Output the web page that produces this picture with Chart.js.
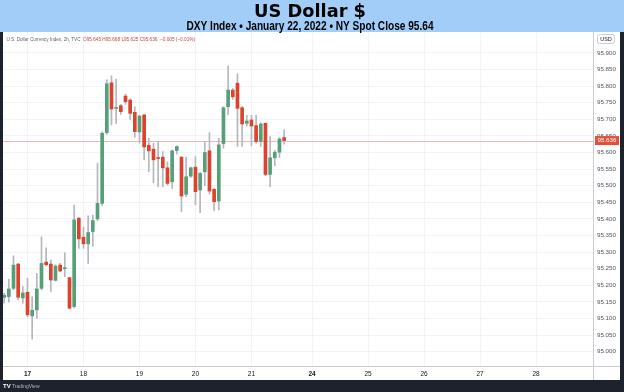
<!DOCTYPE html>
<html>
<head>
<meta charset="utf-8">
<script src="https://cdn.jsdelivr.net/npm/chart.js@4"></script>
<style>
  html, body { margin: 0; padding: 0; background: #fff; }
  #wrap { width: 624px; height: 392px; }
</style>
</head>
<body>
<div id="wrap"><canvas id="dxyChart" width="624" height="392"></canvas></div>
<script>
// 2h candles, DXY, Jan 14 (tail) .. Jan 21 2022
const opens = [95.164, 95.166, 95.191, 95.264, 95.162, 95.179, 95.108, 95.126, 95.191, 95.270,
  95.264, 95.215, 95.261, 95.250, 95.223, 95.136, 95.402, 95.345, 95.325, 95.362,
  95.400, 95.447, 95.660, 95.810, 95.733, 95.741, 95.770, 95.758, 95.721, 95.662,
  95.713, 95.622, 95.610, 95.584, 95.586, 95.554, 95.512, 95.606, 95.586, 95.474,
  95.529, 95.556, 95.487, 95.542, 95.605, 95.489, 95.454, 95.627, 95.738, 95.788,
  95.809, 95.735, 95.688, 95.698, 95.681, 95.633, 95.688, 95.534, 95.584, 95.601, 95.645];
const highs = [95.176, 95.218, 95.289, 95.266, 95.196, 95.221, 95.166, 95.236, 95.346, 95.313,
  95.276, 95.262, 95.266, 95.298, 95.224, 95.442, 95.405, 95.375, 95.409, 95.412,
  95.568, 95.662, 95.819, 95.831, 95.821, 95.745, 95.776, 95.762, 95.738, 95.712,
  95.715, 95.643, 95.628, 95.633, 95.603, 95.572, 95.607, 95.620, 95.588, 95.586,
  95.556, 95.588, 95.540, 95.633, 95.660, 95.492, 95.643, 95.738, 95.861, 95.793,
  95.837, 95.738, 95.712, 95.712, 95.712, 95.690, 95.690, 95.648, 95.606, 95.645, 95.668];
const lows = [95.146, 95.149, 95.186, 95.156, 95.146, 95.105, 95.038, 95.101, 95.186, 95.258,
  95.181, 95.213, 95.240, 95.226, 95.129, 95.131, 95.311, 95.311, 95.266, 95.318,
  95.395, 95.440, 95.655, 95.683, 95.688, 95.715, 95.745, 95.700, 95.646, 95.628,
  95.578, 95.542, 95.509, 95.497, 95.497, 95.502, 95.492, 95.595, 95.422, 95.467,
  95.525, 95.442, 95.419, 95.500, 95.475, 95.425, 95.427, 95.613, 95.713, 95.760,
  95.618, 95.618, 95.680, 95.620, 95.628, 95.618, 95.530, 95.497, 95.560, 95.585, 95.625];
const closes = [95.170, 95.189, 95.261, 95.164, 95.177, 95.111, 95.125, 95.189, 95.266, 95.262,
  95.216, 95.258, 95.243, 95.253, 95.131, 95.397, 95.340, 95.325, 95.359, 95.395,
  95.447, 95.658, 95.807, 95.731, 95.736, 95.723, 95.753, 95.718, 95.663, 95.710,
  95.617, 95.605, 95.578, 95.582, 95.554, 95.507, 95.605, 95.618, 95.469, 95.527,
  95.554, 95.482, 95.537, 95.600, 95.484, 95.452, 95.623, 95.735, 95.788, 95.768,
  95.733, 95.686, 95.695, 95.680, 95.633, 95.686, 95.534, 95.584, 95.601, 95.641, 95.636];

// x axis: day starts, as 2h slot index
const dayIdx = [5, 17, 29, 41, 53, 66, 78, 90, 102, 114];
const dayLabels = ['17', '18', '19', '20', '21', '24', '25', '26', '27', '28'];
const boldDays = ['17', '24'];
const yTicks = [95.000, 95.050, 95.100, 95.150, 95.200, 95.250, 95.300, 95.350, 95.400,
  95.450, 95.500, 95.550, 95.600, 95.650, 95.700, 95.750, 95.800, 95.850, 95.900];

const UP = '#55a079';
const DOWN = '#db432e';
const DARK = '#1e222d';
const FONT = '"Liberation Sans", Arial, sans-serif';

const bodyData = opens.map((o, i) => ({x: i, y: [o, closes[i]]}));
const wickData = opens.map((o, i) => ({x: i, y: [lows[i], highs[i]]}));

function candleColor(i) {
    return closes[i] >= opens[i] ? UP : DOWN;
}

const decorations = {
    id: 'decorations',
    beforeDraw(chart) {
        const ctx = chart.ctx;
        ctx.save();
        ctx.fillStyle = '#ffffff';
        ctx.fillRect(0, 0, 624, 392);
        ctx.fillStyle = '#a1cdf8';
        ctx.fillRect(0, 0, 624, 32);
        ctx.fillStyle = '#000000';
        ctx.textAlign = 'center';
        ctx.textBaseline = 'alphabetic';
        ctx.font = 'bold 18px "DejaVu Sans", sans-serif';
        ctx.fillText('US Dollar $', 310, 17, 112);
        ctx.font = 'bold 12px "Liberation Sans Narrow", ' + FONT;
        ctx.fillText('DXY Index \u2022 January 22, 2022 \u2022 NY Spot Close 95.64', 310, 30, 247);
        ctx.restore();
    },
    beforeDatasetsDraw(chart) {
        const ctx = chart.ctx;
        const area = chart.chartArea;
        const y = Math.round(chart.scales.y.getPixelForValue(closes[closes.length - 1])) + 0.5;
        ctx.save();
        ctx.strokeStyle = '#f6b3b0';
        ctx.lineWidth = 1;
        ctx.beginPath();
        ctx.moveTo(area.left, y);
        ctx.lineTo(area.right, y);
        ctx.stroke();
        ctx.restore();
    },
    afterDraw(chart) {
        const ctx = chart.ctx;
        const last = closes.length - 1;
        ctx.save();
        // axis separators
        ctx.strokeStyle = '#c9ccd3';
        ctx.lineWidth = 1;
        ctx.beginPath();
        ctx.moveTo(593.5, 32);
        ctx.lineTo(593.5, 380);
        ctx.moveTo(3, 366.5);
        ctx.lineTo(620, 366.5);
        ctx.stroke();

        // legend line
        ctx.textAlign = 'left';
        ctx.textBaseline = 'middle';
        ctx.font = '5.5px ' + FONT;
        ctx.fillStyle = '#5d606b';
        ctx.fillText('U.S. Dollar Currency Index, 2h, TVC', 6.5, 39.5, 74);
        ctx.fillStyle = '#c4473a';
        const chg = closes[last] - closes[last - 1];
        const pct = chg / closes[last - 1] * 100;
        ctx.fillText('O' + opens[last].toFixed(3) + ' H' + highs[last].toFixed(3) + ' L' + lows[last].toFixed(3) +
            ' C' + closes[last].toFixed(3) + '  \u2212' + Math.abs(chg).toFixed(3) + ' (\u2212' + Math.abs(pct).toFixed(2) + '%)',
            83, 39.5, 112);

        // USD badge
        ctx.fillStyle = '#ffffff';
        ctx.strokeStyle = '#c9ccd3';
        ctx.beginPath();
        ctx.roundRect(597.5, 34.5, 17, 9, 2);
        ctx.fill();
        ctx.stroke();
        ctx.fillStyle = '#131722';
        ctx.textAlign = 'center';
        ctx.fillText('USD', 606, 39.5);

        // last price label
        const py = chart.scales.y.getPixelForValue(closes[last]);
        ctx.fillStyle = '#e0503c';
        ctx.fillRect(595, py - 4.5, 24, 9);
        ctx.fillStyle = '#ffffff';
        ctx.font = '6.2px ' + FONT;
        ctx.textAlign = 'left';
        ctx.fillText(closes[last].toFixed(3), 597.5, py);

        // dark frame
        ctx.fillStyle = DARK;
        ctx.fillRect(0, 32, 3, 360);
        ctx.fillRect(620, 32, 4, 360);
        ctx.fillRect(0, 380, 624, 12);
        ctx.fillStyle = '#ffffff';
        ctx.font = 'bold 6px ' + FONT;
        ctx.fillText('TV', 3, 386.5);
        ctx.fillStyle = '#b2b5be';
        ctx.font = '5px ' + FONT;
        ctx.fillText('TradingView', 12, 386.5);
        ctx.restore();
    }
};

const ctx = document.getElementById('dxyChart').getContext('2d');
new Chart(ctx, {
    type: 'bar',
    data: {
        datasets: [{
            label: 'body',
            data: bodyData,
            grouped: false,
            barThickness: 3,
            minBarLength: 1,
            backgroundColor: c => candleColor(c.dataIndex),
            borderWidth: 0,
            order: 0
        }, {
            label: 'wick',
            data: wickData,
            grouped: false,
            barThickness: 1,
            backgroundColor: '#b4b7bd',
            borderWidth: 0,
            order: 1
        }]
    },
    options: {
        responsive: false,
        animation: false,
        layout: {
            padding: {top: 32, left: 3, right: 4, bottom: 12}
        },
        plugins: {
            legend: {display: false},
            tooltip: {enabled: false},
            title: {display: false}
        },
        scales: {
            x: {
                type: 'linear',
                offset: false,
                min: -0.25,
                max: 126.2,
                afterBuildTicks: s => { s.ticks = dayIdx.map(v => ({value: v})); },
                afterFit: s => { s.height = 14; },
                ticks: {
                    autoSkip: false,
                    maxRotation: 0,
                    padding: 4,
                    color: '#131722',
                    callback: v => dayLabels[dayIdx.indexOf(v)],
                    font: c => ({
                        size: 6.5,
                        family: FONT,
                        weight: c.tick && boldDays.includes(c.tick.label) ? 'bold' : 'normal'
                    })
                },
                grid: {color: '#f0f3fa', drawTicks: false, offset: false},
                border: {display: false}
            },
            y: {
                position: 'right',
                min: 94.957,
                max: 95.963,
                afterBuildTicks: s => { s.ticks = yTicks.map(v => ({value: v})); },
                afterFit: s => { s.width = 27; },
                ticks: {
                    padding: 4,
                    color: '#50535e',
                    font: {size: 6.2, family: FONT},
                    callback: v => v.toFixed(3)
                },
                grid: {color: '#f0f3fa', drawTicks: false},
                border: {display: false}
            }
        }
    },
    plugins: [decorations]
});
</script>
</body>
</html>
